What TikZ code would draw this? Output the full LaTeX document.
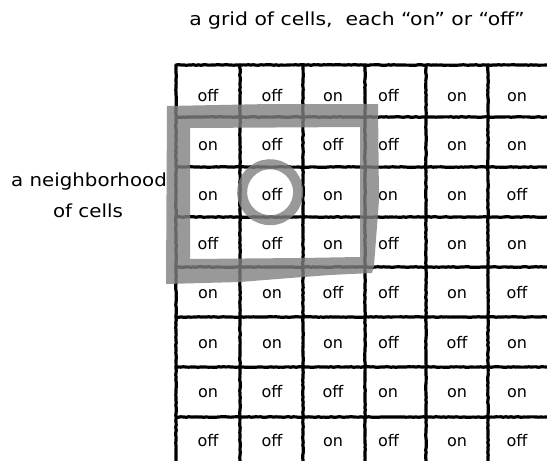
\documentclass[tikz,border=0pt]{standalone}
\usepackage{fontspec}
\setmainfont{DejaVu Sans}
\newfontfamily\labelfont[FakeStretch=1.1]{DejaVu Sans}
\newfontfamily\titlefont[FakeStretch=1.13]{DejaVu Sans}
\usetikzlibrary{decorations.pathmorphing}

\begin{document}
\begin{tikzpicture}[x=1pt,y=-1pt,
  gridline/.style={line width=3.2pt,black,line cap=round,
    decorate,decoration={random steps,segment length=2.5pt,amplitude=0.3pt}},
  cell/.style={font=\fontsize{16}{16}\selectfont,anchor=base,inner sep=0pt},
  cellw/.style={cell,anchor=base west},
  caption/.style={font=\labelfont\fontsize{18}{18}\selectfont,anchor=base,inner sep=0pt},
  marker/.style={fill=black!50,fill opacity=0.8,draw=none},
]
\pgfmathsetseed{7}
\useasboundingbox (0,0) rectangle (547,461);

% vertical grid lines
\foreach \x in {176,240,303,365,426,488}
  \draw[gridline] (\x,65) -- (\x,461);
% horizontal grid lines
\foreach \y in {65,117,167,217,267,317,367,417}
  \draw[gridline] (176,\y) -- (547,\y);

% cell states, one row per entry
\foreach \r/\y/\a/\b/\c/\d/\e/\f in {
  1/101/off/off/on/off/on/on,
  2/150/on/off/off/off/on/on,
  3/200/on/off/on/on/on/off,
  4/249/off/off/on/off/on/on,
  5/298/on/on/off/off/on/off,
  6/348/on/on/on/off/off/on,
  7/397/on/off/off/on/on/on,
  8/446/off/off/on/off/on/off}{
  \node[cell]  (c\r-1) at (208,\y) {\a};
  \node[cell]  (c\r-2) at (272,\y) {\b};
  \node[cell]  (c\r-3) at (333,\y) {\c};
  \node[cellw] (c\r-4) at (378,\y) {\d};
  \node[cell]  (c\r-5) at (457,\y) {\e};
  \node[cell]  (c\r-6) at (517,\y) {\f};
}

% hand-drawn square around the neighborhood
\path[marker,even odd rule]
  (167,106) -- (270,104) -- (378,104) -- (379,200) -- (374,266)
  -- (372,273) -- (330,275) -- (290,278) -- (240,282) -- (166,284) -- cycle
  (190,128) -- (360,127) -- (360,257) -- (300,258) -- (190,259) -- cycle;

% ring around the centre cell
\draw[black!50,draw opacity=0.8,line width=10pt,line cap=round]
  (275,191) ++(-14:23) arc[start angle=-14,end angle=345,radius=28];

% captions
\node[caption,font=\titlefont\fontsize{18}{18}\selectfont] (title) at (357,25)
  {a grid of cells,\ \ each “on” or “off”};
\node[caption] (hood1) at (89,186) {a neighborhood};
\node[caption] (hood2) at (88,217) {of cells};
\end{tikzpicture}
\end{document}
